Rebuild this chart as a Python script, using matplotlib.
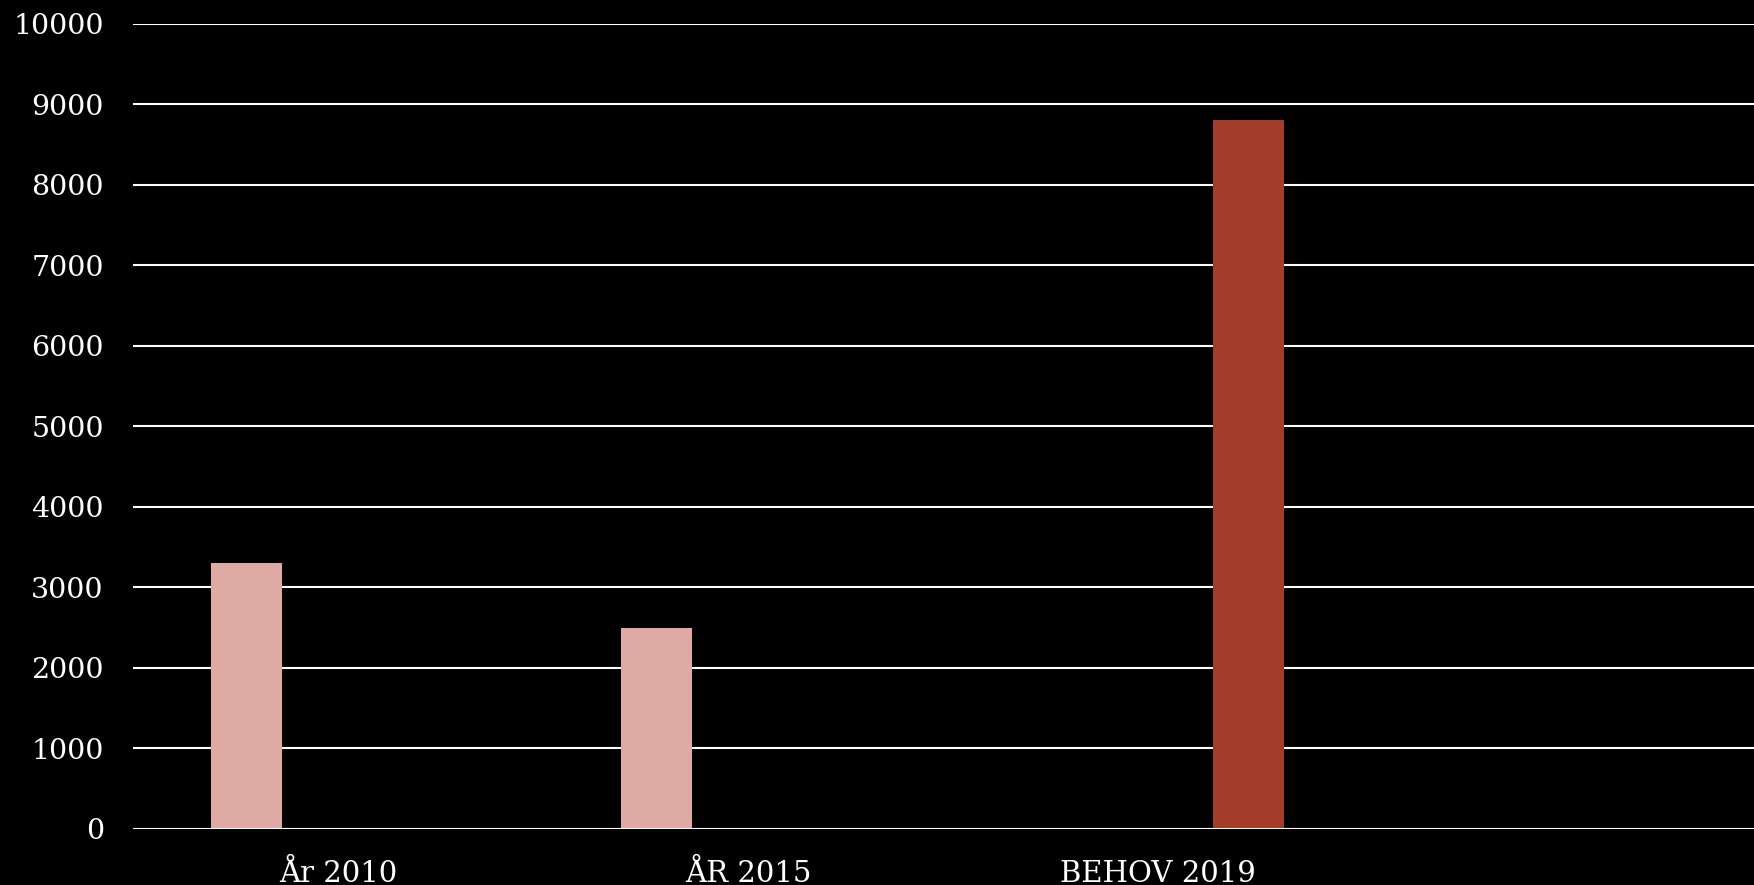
import numpy as np
import matplotlib.pyplot as plt

# Data
categories = ['År 2010', 'ÅR 2015', 'BEHOV 2019', '']
actual = [3300, 2500, np.nan, np.nan]      # ljusrosa staplar
need = [np.nan, np.nan, 8800, np.nan]      # röd stapel
y_ticks = [0, 1000, 2000, 3000, 4000, 5000, 6000, 7000, 8000, 9000, 10000]

pink = '#DFAAA4'
red = '#A33C28'

plt.rcParams['font.family'] = ['DejaVu Serif']

fig = plt.figure(figsize=(17.54, 8.85), dpi=100, facecolor='black')
ax = fig.add_axes([0.0758, 0.0633, 0.9242, 0.9101])
ax.set_facecolor('black')

x = np.arange(len(categories))
width = 0.173
ax.bar(x - 0.222, actual, width=width, color=pink, zorder=2)
ax.bar(x + 0.222, need, width=width, color=red, zorder=2)

# the chart is cut off at the right edge
ax.set_xlim(-0.5, 3.454)
ax.set_ylim(0, 10000)
ax.set_yticks(y_ticks)
ax.set_yticklabels([str(v) for v in y_ticks])
ax.set_xticks(x)
ax.set_xticklabels(categories)

# gridlines
ax.yaxis.grid(True, color='white', linewidth=1.5, zorder=1)
ax.set_axisbelow(True)
ax.axhline(0, color='white', linewidth=2.2, zorder=3)

for s in ax.spines.values():
    s.set_visible(False)
ax.tick_params(axis='both', length=0, colors='white')
ax.tick_params(axis='y', pad=21, labelsize=20.5)
ax.tick_params(axis='x', pad=22, labelsize=21)

fig.savefig('out.png', dpi=100, facecolor='black')
